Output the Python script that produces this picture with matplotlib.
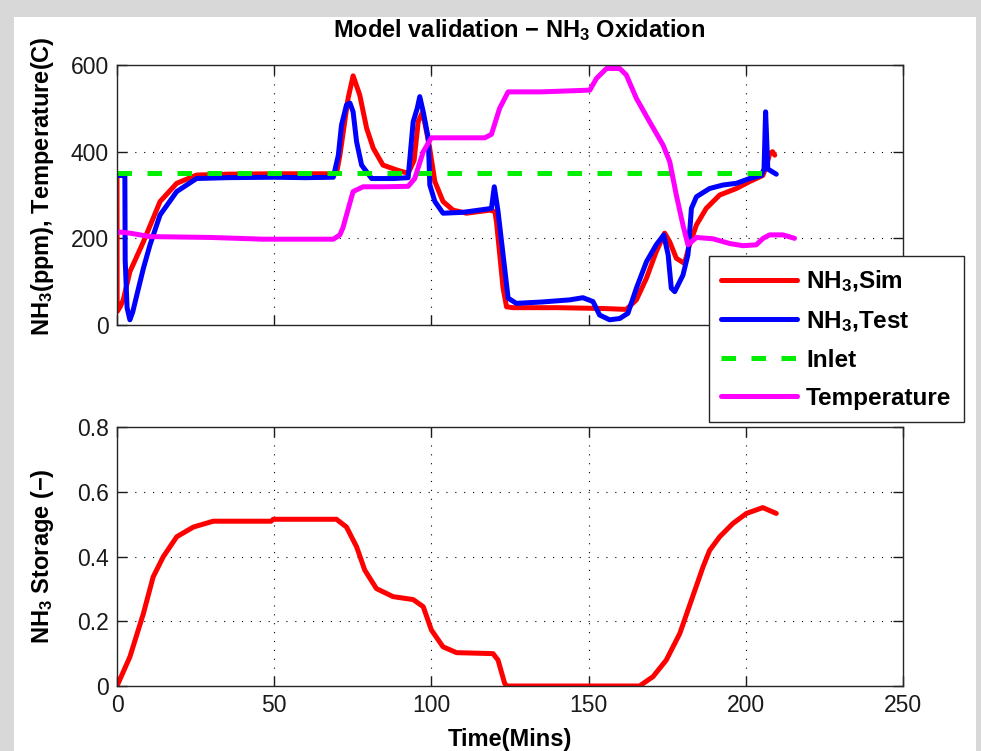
import numpy as np
import matplotlib
matplotlib.use('Agg')
import matplotlib.pyplot as plt
from matplotlib.patches import Rectangle

plt.rcParams['font.family'] = ['Liberation Sans', 'DejaVu Sans']
plt.rcParams['mathtext.fontset'] = 'custom'
plt.rcParams['mathtext.rm'] = 'Liberation Sans'
plt.rcParams['mathtext.bf'] = 'Liberation Sans:bold'
plt.rcParams['mathtext.it'] = 'Liberation Sans:italic'
plt.rcParams['mathtext.default'] = 'bf'

## data (time in minutes)
# NH3 simulated
sim_t = [0, 0.05, 1.0, 2.0, 4.1, 8.4, 13.7, 19, 25.3, 35, 50, 60, 69.8, 70.9, 73.5, 75.1, 77.2,
         79.4, 81.5, 84.6, 88.9, 92.6, 94.5, 95.8, 97.2, 99.3, 101.1, 103.7, 106.9, 111.2, 118.6,
         120.2, 120.7, 122.8, 123.9, 126, 140, 155, 162, 165.2, 168.4, 171.5, 174.2, 175.8, 177.9,
         180.5, 182.1, 184.3, 187.4, 191.7, 197, 201.2, 205.4, 206.5, 207.6, 208.5, 209.2]
sim_v = [345, 31, 42, 58, 123, 192, 285, 327, 346, 348, 349, 349, 349, 392, 523, 575, 531,
         454, 408, 369, 358, 350, 380, 469, 492, 415, 331, 285, 265, 258, 265,
         262, 238, 85, 42, 40, 40, 38, 36, 58, 108, 169, 212, 192, 154,
         142, 185, 231, 269, 300, 315, 331, 345, 365, 396, 400, 392]

# NH3 measured
test_t = [0, 2.5, 2.6, 3.2, 4.1, 5, 6.3, 8.4, 10.5, 13.7, 19, 25.3, 35, 50, 60, 68.8, 70.4,
          71.4, 73, 74.1, 75.1, 76.2, 77.8, 81, 88, 92.6, 94.2, 95.5, 96.3, 97.4, 99, 99.5,
          101.1, 103.7, 110, 119.1, 120, 121.2, 122.8, 124.4, 127, 135, 144, 148.2, 151.4, 153.5,
          156.7, 159.9, 162.5, 165.2, 168.4, 171.5, 173.9, 175.3, 176.3, 177.4, 180, 181.6, 182.7,
          184.3, 188.5, 192.7, 197, 201.2, 204.9, 205.8, 206.3, 206.8, 207, 209.7]
test_v = [345, 345, 150, 40, 12, 30, 69, 131, 185, 254, 308, 338, 340, 341, 340, 341, 392,
          461, 508, 512, 492, 423, 369, 338, 338, 340, 469, 500, 527, 492, 431, 323,
          285, 258, 260, 269, 319, 262, 162, 62, 50, 53, 58, 63, 54, 23,
          12, 15, 27, 85, 146, 185, 208, 162, 85, 77, 115, 162, 269,
          296, 315, 323, 327, 338, 345, 360, 492, 400, 360, 348]

# inlet
inlet_t = [0, 209.7]
inlet_v = [350, 350]

# temperature
temp_t = [0, 4.1, 10.5, 30, 46.5, 60, 68.8, 70.9, 71.9, 73, 75.1, 78.3, 85, 92.6, 94.7, 97.4,
          100, 110, 117, 119.1, 121.7, 124.4, 135, 150.4, 152.5, 155.7, 159.9, 162, 165.2,
          169.4, 173.7, 175.8, 177.9, 180, 181.6, 184.3, 189.5, 194.9, 199.1, 203.3, 205.5,
          207.6, 211.8, 215.5]
temp_v = [215, 212, 204, 202, 198, 198, 198, 208, 225, 254, 308, 319, 319, 320, 338, 400,
          432, 432, 432, 440, 500, 538, 538, 542, 569, 592, 592, 577, 523,
          469, 415, 377, 300, 231, 185, 202, 199, 188, 183, 185, 200,
          208, 208, 200]

# NH3 storage
stor_t = [0, 4.1, 8.4, 11.5, 14.7, 19, 24.3, 30.6, 49, 49.7, 69.8, 73, 76.2, 78.8, 82.5, 87.8,
          94.2, 97.4, 100, 103.7, 108, 119.6, 121.2, 123.3, 124, 166.2, 170.5, 174.7, 179,
          182.7, 186.4, 188.5, 191.7, 195.9, 200.2, 205.4, 209.7]
stor_v = [0, 0.09, 0.224, 0.337, 0.399, 0.461, 0.491, 0.509, 0.509, 0.515, 0.515, 0.491, 0.43,
          0.358, 0.301, 0.276, 0.267, 0.245, 0.173, 0.121, 0.103, 0.10, 0.08, 0.008, 0, 0,
          0.029, 0.08, 0.162, 0.265, 0.368, 0.419, 0.461, 0.502, 0.533, 0.551, 0.533]

x_ticks = [0, 50, 100, 150, 200, 250]
top_yticks = [0, 200, 400, 600]
bot_yticks = [0, 0.2, 0.4, 0.6, 0.8]
bot_ylabels = ['0', '0.2', '0.4', '0.6', '0.8']
legend_labels = ['NH$_3$,Sim', 'NH$_3$,Test', 'Inlet', 'Temperature']

W, H = 981, 751
fig = plt.figure(figsize=(W / 100, H / 100), dpi=100)
fig.patch.set_facecolor('#d8d8d8')
fig.patches.append(Rectangle((14 / W, 0), (976 - 14) / W, (H - 17) / H,
                             transform=fig.transFigure, facecolor='white',
                             edgecolor='none', zorder=-1))

ax1 = fig.add_axes([117 / W, 1 - 325 / H, 786 / W, 260 / H])
ax2 = fig.add_axes([117 / W, 1 - 686 / H, 786 / W, 259 / H])

lw = 3.6
style = dict(lw=lw, solid_joinstyle='round', solid_capstyle='round')
ax1.plot(sim_t, sim_v, color='#ff0000', **style)
ax1.plot(test_t, test_v, color='#0000ff', **style)
ax1.plot(inlet_t, inlet_v, color='#00ee00', lw=lw, ls=(0, (2.9, 3.1)), dash_capstyle='butt')
ax1.plot(temp_t, temp_v, color='#ff00ff', **style)
ax2.plot(stor_t, stor_v, color='#ff0000', **style)

ax1.set_ylim(0, 600)
ax1.set_yticks(top_yticks)
ax1.set_xticklabels([])
ax2.set_ylim(0, 0.8)
ax2.set_yticks(bot_yticks)
ax2.set_yticklabels(bot_ylabels)

for ax in (ax1, ax2):
    ax.set_xlim(0, 250)
    ax.set_xticks(x_ticks)
    ax.grid(True, color='black', lw=0.8, ls=(0, (1, 7)))
    ax.tick_params(direction='in', length=7, width=1, top=True, right=True,
                   labelsize=16.5, pad=6, colors='#1a1a1a')
    for s in ax.spines.values():
        s.set_linewidth(1)
        s.set_color('#262626')
ax2.set_xticklabels([str(v) for v in x_ticks])

lab = dict(fontsize=17, fontweight='bold')
ax1.set_ylabel('NH$_3$(ppm), Temperature(C)', **lab)
ax1.yaxis.set_label_coords(-0.077, 0.535)
ax2.set_ylabel('NH$_3$ Storage (\u2212)', **lab)
ax2.yaxis.set_label_coords(-0.077, 0.5)
ax2.set_xlabel('Time(Mins)', labelpad=8, **lab)

fig.text(519 / W, 1 - 30 / H, 'Model validation \u2212 NH$_3$ Oxidation',
         ha='center', va='center', **lab)

leg = ax1.legend(legend_labels, loc='upper left', bbox_to_anchor=(709 / W, 1 - 256 / H),
                 bbox_transform=fig.transFigure, borderaxespad=0, fancybox=False,
                 framealpha=1, edgecolor='#262626', handlelength=3.1, handletextpad=0.4,
                 labelspacing=0.62, borderpad=0.5, prop={'size': 17.5, 'weight': 'bold'})
leg.get_frame().set_linewidth(1)

fig.savefig('out.png', dpi=100, facecolor=fig.get_facecolor())
